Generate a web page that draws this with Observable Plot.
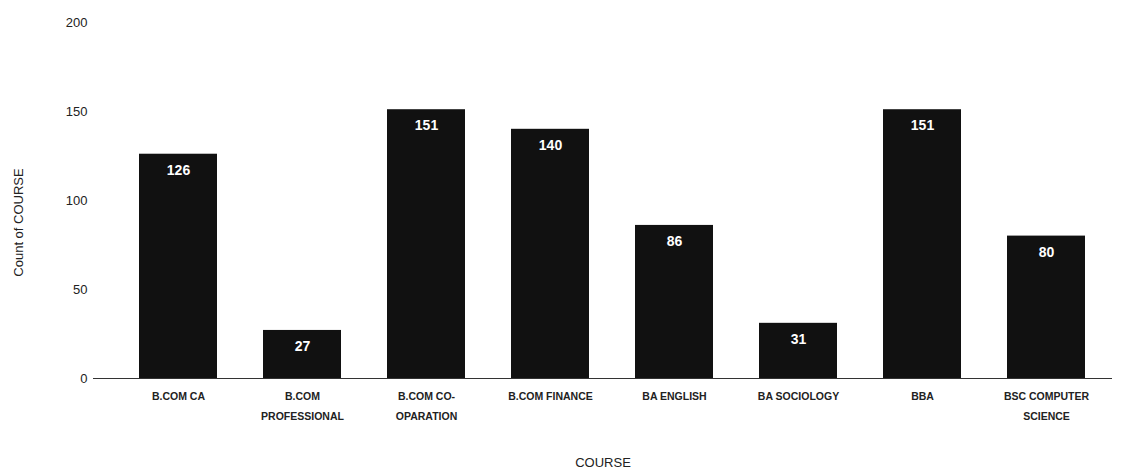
<!DOCTYPE html>
<html>
<head>
<meta charset="utf-8">
<script src="https://cdn.jsdelivr.net/npm/d3@7"></script>
<script src="https://cdn.jsdelivr.net/npm/@observablehq/plot@0.6"></script>
<style>
  html, body { margin: 0; padding: 0; background: #ffffff; }
  #chart { width: 1124px; height: 471px; }
  svg { font-family: "Liberation Sans", Arial, sans-serif; }
</style>
</head>
<body>
<div id="chart"></div>
<script>
const courses = ["B.COM CA", "B.COM PROFESSIONAL", "B.COM CO-OPARATION", "B.COM FINANCE", "BA ENGLISH", "BA SOCIOLOGY", "BBA", "BSC COMPUTER SCIENCE"];
const courseLabels = ["B.COM CA", "B.COM\nPROFESSIONAL", "B.COM CO-\nOPARATION", "B.COM FINANCE", "BA ENGLISH", "BA SOCIOLOGY", "BBA", "BSC COMPUTER\nSCIENCE"];
const counts = [126, 27, 151, 140, 86, 31, 151, 80];
const yTicks = [0, 50, 100, 150, 200];

const data = courses.map((c, i) => ({course: c, count: counts[i]}));
const labelOf = new Map(courses.map((c, i) => [c, courseLabels[i]]));

const chart = Plot.plot({
  width: 1124,
  height: 471,
  marginLeft: 93,
  marginRight: 12,
  marginTop: 22,
  marginBottom: 93,
  style: {background: "#ffffff", color: "#222"},
  x: {domain: courses, range: [112, 1112], paddingInner: 0.37, paddingOuter: 0.2},
  y: {domain: [0, 200]},
  marks: [
    Plot.barY(data, {x: "course", y: "count", fill: "#111111"}),
    Plot.ruleY([0], {stroke: "#333", strokeWidth: 1.2}),
    Plot.text(data, {x: "course", y: "count", text: d => String(d.count), dy: 16, fill: "#ffffff", fontSize: 14, fontWeight: "bold"}),
    Plot.axisY({ticks: yTicks, tickSize: 0, tickPadding: 6, fontSize: 13, label: "Count of COURSE", labelAnchor: "center", labelArrow: "none", labelOffset: 80}),
    Plot.axisX({tickSize: 0, tickPadding: 8, fontSize: 10.5, fontWeight: "bold", lineHeight: 1.85, tickFormat: d => labelOf.get(d), label: null}),
    Plot.axisX({tickSize: 0, ticks: [], label: "COURSE", labelAnchor: "center", labelArrow: "none", labelOffset: 88, fontSize: 13})
  ]
});
chart.querySelectorAll("text").forEach(t => {
  if (t.textContent === "Count of COURSE") {
    t.setAttribute("font-size", "13");
    const tr = t.getAttribute("transform") || "";
    t.setAttribute("transform", tr.replace(/translate\(([^,]+),([^)]+)\)/, (m, a, b) => `translate(${a},${+b + 22})`));
  }
  if (t.textContent === "COURSE") { t.setAttribute("font-size", "13"); t.setAttribute("font-weight", "normal"); }
});
document.getElementById("chart").append(chart);
</script>
</body>
</html>
